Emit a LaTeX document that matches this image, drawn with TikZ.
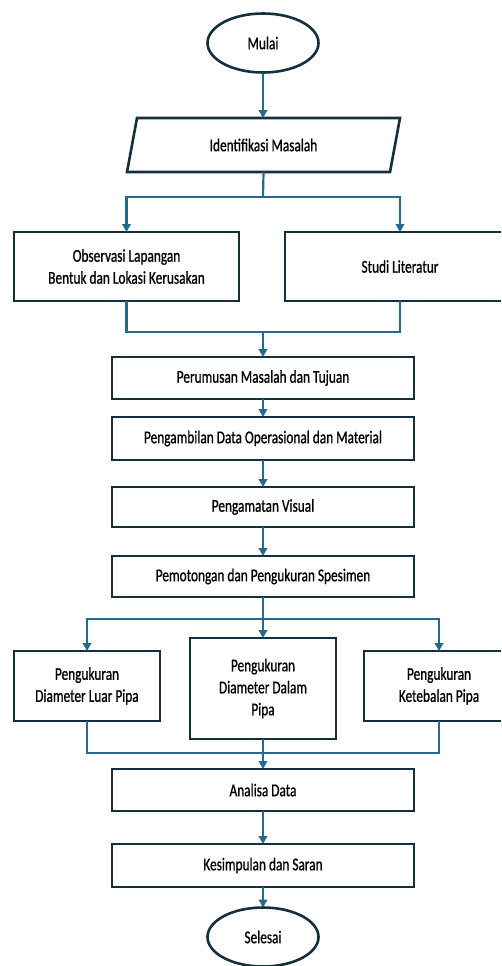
\documentclass[tikz,border=0pt]{standalone}
\usepackage{fontspec}
\setmainfont{Carlito}[FakeStretch=0.74,FakeBold=0.8]
\usetikzlibrary{arrows.meta,shapes.geometric}
\definecolor{boxc}{HTML}{14303D}
\definecolor{arrc}{HTML}{236A8E}
\begin{document}
\begin{tikzpicture}[x=1pt,y=-1pt,
  every node/.style={font=\fontsize{18}{22}\selectfont, align=center, outer sep=0pt, inner sep=0pt},
  procbox/.style={draw=boxc, line width=2.6pt, fill=white, minimum height=#1},
  procbox/.default=42,
  term/.style={draw=boxc, line width=2.6pt, ellipse, minimum width=111, minimum height=59},
  conn/.style={draw=arrc, line width=2.2pt},
  arr/.style={conn, -{Triangle[length=8pt,width=8.5pt]}}
]
\useasboundingbox (0,0) rectangle (501,966);
\clip (0,0) rectangle (501,966);
\fill[white] (0,0) rectangle (501,966);

% nodes
\node[term] (mulai) at (263,43) {Mulai};
\node[minimum width=273, minimum height=54] (idm) at (263.5,145) {Identifikasi Masalah};
\draw[boxc, line width=2.6pt, line join=miter]
  ([xshift=10pt]idm.north west) -- (idm.north east) -- ([xshift=-10pt]idm.south east) -- (idm.south west) -- cycle;

\node[procbox=69, minimum width=225] (obs) at (126.5,266.5) {Observasi Lapangan\\Bentuk dan Lokasi Kerusakan};
\node[procbox=69, minimum width=230] (stu) at (400,266.5) {Studi Literatur};

\node[procbox=42, minimum width=302] (per) at (263,378) {Perumusan Masalah dan Tujuan};
\node[procbox=43, minimum width=302] (pen) at (263,438.5) {Pengambilan Data Operasional dan Material};
\node[procbox=40, minimum width=302] (vis) at (263,507) {Pengamatan Visual};
\node[procbox=41, minimum width=302] (pot) at (263,576.5) {Pemotongan dan Pengukuran Spesimen};

\node[procbox=70, minimum width=146] (dl) at (87,686) {Pengukuran\\Diameter Luar Pipa};
\node[procbox=101, minimum width=146] (dd) at (263,688.5) {Pengukuran\\Diameter Dalam\\Pipa};
\node[procbox=70, minimum width=150] (kt) at (439,686) {Pengukuran\\Ketebalan Pipa};

\node[procbox=42, minimum width=302] (ana) at (263,790) {Analisa Data};
\node[procbox=43, minimum width=302] (kes) at (263,865.5) {Kesimpulan dan Saran};
\node[term] (sel) at (263,937) {Selesai};

% junction coordinates
\coordinate (s1) at (263,197);
\coordinate (m1) at (263,332);
\coordinate (s2) at (263,619);
\coordinate (m2) at (263,753);

% connectors
\draw[arr] (mulai) -- (idm.north -| mulai);
\draw[conn] (idm.south) -- (s1);
\draw[arr] (s1) -| (obs.north);
\draw[arr] (s1) -| (stu.north);
\draw[conn] (obs.south) |- (m1);
\draw[conn] (stu.south) |- (m1);
\draw[arr] (m1) -- (per.north);
\draw[arr] (per) -- (pen);
\draw[arr] (pen) -- (vis);
\draw[arr] (vis) -- (pot);
\draw[conn] (pot.south) -- (s2);
\draw[arr] (s2) -| (dl.north);
\draw[arr] (s2) -- (dd.north);
\draw[arr] (s2) -| (kt.north);
\draw[conn] (dl.south) |- (m2);
\draw[conn] (kt.south) |- (m2);
\draw[conn] (dd.south) -- (m2);
\draw[arr] (m2) -- (ana.north);
\draw[arr] (ana) -- (kes);
\draw[arr] (kes) -- (sel);
\end{tikzpicture}
\end{document}
